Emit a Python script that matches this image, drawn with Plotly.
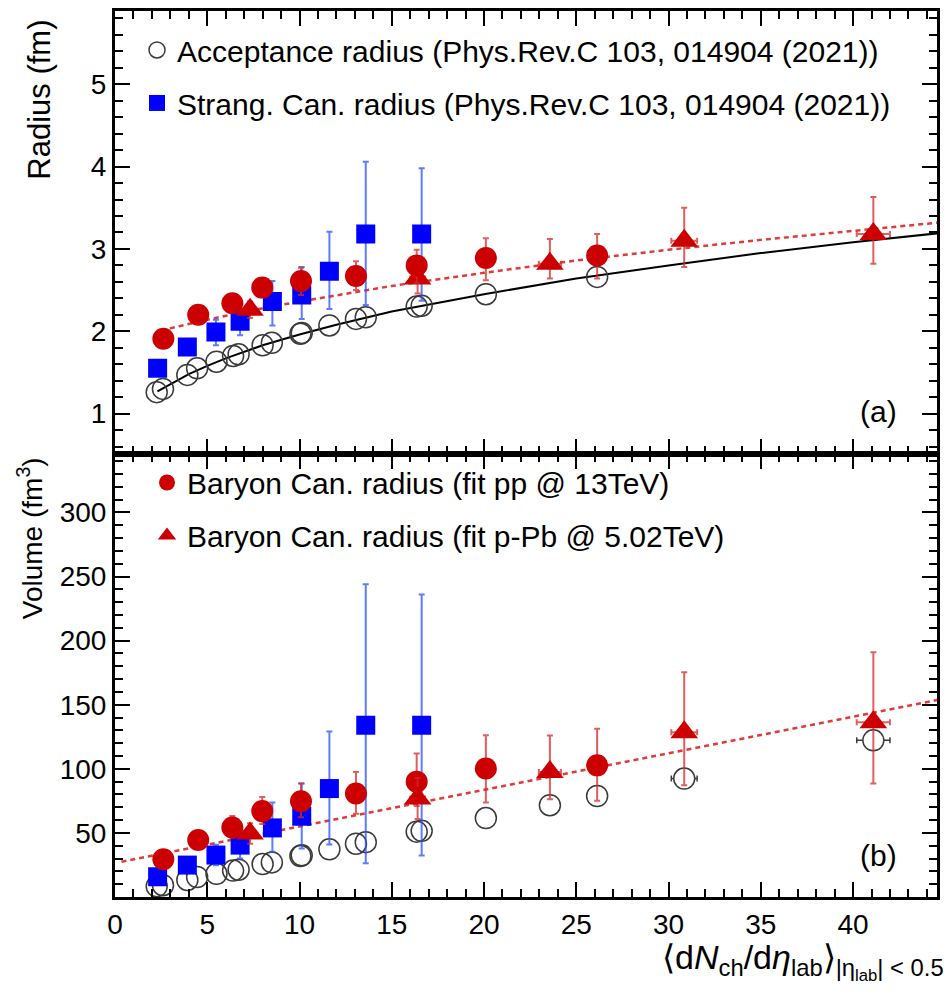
import plotly.graph_objects as go

FONT = "Liberation Sans, Arial, Helvetica, sans-serif"

# ---------------- data ----------------
# Acceptance radius (open circles), pp classes
acc_x = [2.26, 2.60, 3.92, 4.45, 5.50, 6.40, 6.70, 8.00, 8.50, 10.05, 10.12, 11.62, 13.06, 13.59, 16.35, 16.62, 20.10, 26.13]
acc_R = [1.26, 1.30, 1.47, 1.55, 1.63, 1.70, 1.72, 1.83, 1.86, 1.97, 1.98, 2.07, 2.15, 2.17, 2.30, 2.31, 2.45, 2.66]
acc_V = [8.4, 9.2, 13.3, 15.6, 18.1, 20.6, 21.3, 25.7, 27.0, 32.0, 32.5, 37.2, 41.6, 42.8, 51.0, 51.6, 61.6, 78.8]
# Acceptance volume, p-Pb classes (bottom panel only)
accpb_x = [23.57, 30.85, 41.10]
accpb_V = [71.6, 92.4, 122.2]
accpb_xerr = [0.5, 0.7, 0.9]

# Strangeness canonical radius (blue squares)
sc_x = [2.31, 3.92, 5.47, 6.78, 8.53, 10.12, 11.62, 13.59, 16.62]
sc_R = [1.55, 1.81, 1.99, 2.12, 2.36, 2.44, 2.73, 3.18, 3.18]
sc_R_up = [0.05, 0.08, 0.15, 0.15, 0.25, 0.34, 0.48, 0.88, 0.80]
sc_R_dn = [0.05, 0.08, 0.16, 0.17, 0.29, 0.29, 0.46, 0.86, 0.81]
sc_V = [15.8, 24.9, 32.7, 40.5, 53.9, 63.0, 84.6, 134.0, 134.0]
sc_V_up = [2.5, 4.0, 8.0, 11.5, 19.8, 25.5, 44.6, 110.0, 102.0]
sc_V_dn = [2.5, 4.0, 8.0, 10.5, 18.6, 25.1, 43.6, 107.7, 101.7]

# Baryon canonical radius, fit pp @ 13 TeV (red circles)
bpp_x = [2.62, 4.51, 6.36, 7.98, 10.08, 13.06, 16.35, 20.10, 26.13]
bpp_R = [1.91, 2.20, 2.34, 2.53, 2.61, 2.67, 2.80, 2.89, 2.92]
bpp_R_up = [0.05, 0.07, 0.09, 0.11, 0.16, 0.18, 0.19, 0.24, 0.26]
bpp_R_dn = [0.05, 0.07, 0.09, 0.11, 0.17, 0.17, 0.21, 0.27, 0.28]
bpp_V = [29.5, 44.4, 54.2, 67.0, 74.7, 80.7, 90.0, 100.2, 102.7]
bpp_V_up = [4.0, 7.0, 9.0, 11.0, 13.8, 16.8, 22.0, 26.0, 28.6]
bpp_V_dn = [4.0, 6.0, 8.0, 10.0, 12.5, 15.7, 19.0, 26.5, 27.7]

# Baryon canonical radius, fit p-Pb @ 5.02 TeV (red triangles)
bpb_x = [7.32, 16.40, 23.57, 30.85, 41.10]
bpb_xerr = [0.2, 0.4, 0.6, 0.7, 0.9]
bpb_R = [2.26, 2.64, 2.82, 3.10, 3.18]
bpb_R_up = [0.10, 0.18, 0.30, 0.40, 0.45]
bpb_R_dn = [0.10, 0.18, 0.18, 0.32, 0.36]
bpb_V = [49.6, 76.8, 97.5, 128.6, 136.4]
bpb_V_up = [8.0, 16.0, 28.5, 46.7, 54.5]
bpb_V_dn = [8.0, 16.0, 21.2, 41.4, 47.9]

# Fit curves
acc_line_x = [2.3, 3, 4, 5, 6, 8, 10, 12, 15, 20, 25, 30, 35, 40, 44.6]
acc_line_R = [1.27, 1.36, 1.48, 1.58, 1.67, 1.83, 1.96, 2.08, 2.24, 2.45, 2.64, 2.80, 2.95, 3.08, 3.19]
bar_line_x_top = [2.5, 5, 8, 10, 15, 20, 25, 30, 35, 40, 44.6]
bar_line_R = [2.01, 2.14, 2.28, 2.36, 2.55, 2.71, 2.86, 2.99, 3.11, 3.22, 3.32]
bar_line_x_bot = [0.35, 10, 20, 30, 40, 44.6]
bar_line_V = [27.5, 55.1, 83.6, 112.1, 140.6, 153.8]

x_ticks = [0, 5, 10, 15, 20, 25, 30, 35, 40]
r_ticks = [1, 2, 3, 4, 5]
v_ticks = [50, 100, 150, 200, 250, 300]

# ---------------- styles ----------------
RED = "#cc0000"
RED_ERR = "rgba(215,40,40,0.75)"
BLUE = "#0000ff"
BLUE_ERR = "rgba(40,80,255,0.75)"
OPEN = "#3a3a3a"

fig = go.Figure()

def err(arr, arrm, color):
    return dict(type="data", symmetric=False, array=arr, arrayminus=arrm,
                color=color, thickness=2, width=3)

# ---- top panel (radius): axes x2 / y2 ----
fig.add_trace(go.Scatter(x=acc_line_x, y=acc_line_R, mode="lines",
                         line=dict(color="black", width=2), xaxis="x2", yaxis="y2",
                         showlegend=False, hoverinfo="skip"))
fig.add_trace(go.Scatter(x=acc_x, y=acc_R, mode="markers", name="Acceptance radius (Phys.Rev.C 103, 014904 (2021))",
                         marker=dict(symbol="circle-open", size=21, color=OPEN, line=dict(width=1.5, color=OPEN)),
                         xaxis="x2", yaxis="y2", legend="legend", legendgroup="a", legendrank=1))
fig.add_trace(go.Scatter(x=bar_line_x_top, y=bar_line_R, mode="lines",
                         line=dict(color="#e03a3a", width=2.5, dash="5px,4px"), xaxis="x2", yaxis="y2",
                         showlegend=False, hoverinfo="skip"))
fig.add_trace(go.Scatter(x=sc_x, y=sc_R, mode="markers", name="Strang. Can. radius (Phys.Rev.C 103, 014904 (2021))",
                         marker=dict(symbol="square", size=19, color=BLUE),
                         error_y=err(sc_R_up, sc_R_dn, BLUE_ERR),
                         xaxis="x2", yaxis="y2", legend="legend", legendgroup="b", legendrank=2))
fig.add_trace(go.Scatter(x=bpb_x, y=bpb_R, mode="markers", name="Baryon Can. radius (fit p-Pb @ 5.02TeV)",
                         marker=dict(symbol="triangle-up", size=24, color=RED),
                         error_y=err(bpb_R_up, bpb_R_dn, RED_ERR),
                         error_x=dict(type="data", array=bpb_xerr, color=RED_ERR, thickness=2, width=3),
                         xaxis="x2", yaxis="y2", showlegend=False))
fig.add_trace(go.Scatter(x=bpp_x, y=bpp_R, mode="markers", name="Baryon Can. radius (fit pp @ 13TeV)",
                         marker=dict(symbol="circle", size=22, color=RED),
                         error_y=err(bpp_R_up, bpp_R_dn, RED_ERR),
                         xaxis="x2", yaxis="y2", showlegend=False))

# ---- bottom panel (volume): axes x / y ----
fig.add_trace(go.Scatter(x=acc_x, y=acc_V, mode="markers",
                         marker=dict(symbol="circle-open", size=21, color=OPEN, line=dict(width=1.5, color=OPEN)),
                         xaxis="x", yaxis="y", showlegend=False))
fig.add_trace(go.Scatter(x=accpb_x, y=accpb_V, mode="markers",
                         marker=dict(symbol="circle", size=21, color="white", line=dict(width=1.5, color=OPEN)),
                         error_x=dict(type="data", array=accpb_xerr, color=OPEN, thickness=1.5, width=3),
                         xaxis="x", yaxis="y", showlegend=False))
fig.add_trace(go.Scatter(x=bar_line_x_bot, y=bar_line_V, mode="lines",
                         line=dict(color="#e03a3a", width=2.5, dash="5px,4px"), xaxis="x", yaxis="y",
                         showlegend=False, hoverinfo="skip"))
fig.add_trace(go.Scatter(x=sc_x, y=sc_V, mode="markers",
                         marker=dict(symbol="square", size=19, color=BLUE),
                         error_y=err(sc_V_up, sc_V_dn, BLUE_ERR),
                         xaxis="x", yaxis="y", showlegend=False))
fig.add_trace(go.Scatter(x=bpp_x, y=bpp_V, mode="markers", name="Baryon Can. radius (fit pp @ 13TeV)",
                         marker=dict(symbol="circle", size=22, color=RED),
                         error_y=err(bpp_V_up, bpp_V_dn, RED_ERR),
                         xaxis="x", yaxis="y", legend="legend2", legendgroup="c", legendrank=3))
fig.add_trace(go.Scatter(x=bpb_x, y=bpb_V, mode="markers", name="Baryon Can. radius (fit p-Pb @ 5.02TeV)",
                         marker=dict(symbol="triangle-up", size=24, color=RED),
                         error_y=err(bpb_V_up, bpb_V_dn, RED_ERR),
                         error_x=dict(type="data", array=bpb_xerr, color=RED_ERR, thickness=2, width=3),
                         xaxis="x", yaxis="y", legend="legend2", legendgroup="d", legendrank=4))

# ---------------- axes ----------------
SPLIT = (897 - 452) / 889.0
common = dict(showline=True, linewidth=3, linecolor="black", mirror="allticks",
              ticks="inside", ticklen=15, tickwidth=2, tickcolor="black",
              showgrid=False, zeroline=False,
              tickfont=dict(family=FONT, size=28, color="black"))
xr = [0, 44.55]
fig.update_layout(
    xaxis=dict(domain=[0, 1], anchor="y", range=xr, tickvals=x_ticks,
               minor=dict(ticks="inside", dtick=1, ticklen=8, tickwidth=1.5, tickcolor="black"), **common),
    xaxis2=dict(domain=[0, 1], anchor="y2", range=xr, tickvals=x_ticks, matches="x",
                showticklabels=False,
                minor=dict(ticks="inside", dtick=1, ticklen=8, tickwidth=1.5, tickcolor="black"), **common),
    yaxis=dict(domain=[0, SPLIT], anchor="x", range=[0, 346], tickvals=v_ticks,
               minor=dict(ticks="inside", dtick=10, ticklen=8, tickwidth=1.5, tickcolor="black"), **common),
    yaxis2=dict(domain=[SPLIT, 1], anchor="x2", range=[0.515, 5.89], tickvals=r_ticks,
                minor=dict(ticks="inside", dtick=0.2, ticklen=8, tickwidth=1.5, tickcolor="black"), **common),
)

def px(x):
    return (x - 115) / 822.0

def py(y):
    return (897 - y) / 889.0

fig.update_layout(
    width=948, height=1003,
    margin=dict(l=115, r=11, t=8, b=106),
    plot_bgcolor="white", paper_bgcolor="white",
    font=dict(family=FONT, color="black"),
    showlegend=True,
    legend=dict(x=px(137), y=py(21), xanchor="left", yanchor="top",
                bgcolor="rgba(0,0,0,0)", borderwidth=0, tracegroupgap=11,
                traceorder="grouped", font=dict(family=FONT, size=30, color="black")),
    legend2=dict(x=px(147), y=py(455), xanchor="left", yanchor="top",
                 bgcolor="rgba(0,0,0,0)", borderwidth=0, tracegroupgap=11,
                 traceorder="grouped", font=dict(family=FONT, size=30, color="black")),
    annotations=[
        dict(text="(a)", x=px(878), y=py(410), xref="paper", yref="paper", showarrow=False,
             xanchor="center", yanchor="middle", font=dict(family=FONT, size=30, color="black")),
        dict(text="(b)", x=px(878), y=py(855), xref="paper", yref="paper", showarrow=False,
             xanchor="center", yanchor="middle", font=dict(family=FONT, size=30, color="black")),
        dict(text="Radius (fm)", x=px(40), y=py(97), xref="paper", yref="paper", showarrow=False,
             xanchor="center", yanchor="middle",
             textangle=-90, font=dict(family=FONT, size=31, color="black")),
        dict(text="Volume (fm<sup>3</sup>)", x=px(30), y=py(537), xref="paper", yref="paper", showarrow=False,
             xanchor="center", yanchor="middle",
             textangle=-90, font=dict(family=FONT, size=28, color="black")),
        dict(text="⟨d<i>N</i><sub>ch</sub>/d<i>η</i><sub>lab</sub>⟩<sub>|η<sub>lab</sub>| < 0.5</sub>",
             x=px(946), y=py(936), xref="paper", yref="paper", xanchor="right", yanchor="top",
             showarrow=False, font=dict(family=FONT, size=34, color="black")),
    ],
)

fig.write_html("out.html")
